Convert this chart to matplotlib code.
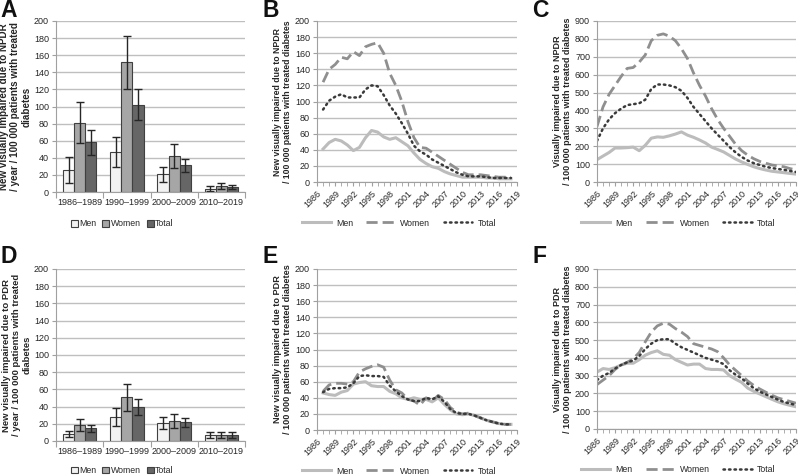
import matplotlib
matplotlib.use("Agg")
import matplotlib.pyplot as plt
import numpy as np

plt.rcParams['font.family'] = ['Liberation Sans', 'DejaVu Sans']

# ---------------- data ----------------
periods = ["1986\u20131989", "1990\u20131999", "2000\u20132009", "2010\u20132019"]
groups = ["Men", "Women", "Total"]

# Panel A (NPDR incidence by period)
a_men = [26, 47, 21, 4]
a_men_lo = [11, 29, 12, 1]
a_men_hi = [41, 64, 29, 7]
a_women = [81, 152, 42, 7]
a_women_lo = [57, 121, 28, 3]
a_women_hi = [105, 183, 56, 11]
a_total = [58, 102, 31, 6]
a_total_lo = [43, 84, 23, 3]
a_total_hi = [73, 120, 39, 8]

# Panel D (PDR incidence by period)
d_men = [8, 28, 21, 7]
d_men_lo = [5, 18, 14, 4]
d_men_hi = [12, 38, 28, 10]
d_women = [19, 51, 23, 7]
d_women_lo = [12, 35, 15, 3]
d_women_hi = [26, 66, 31, 11]
d_total = [15, 40, 22, 7]
d_total_lo = [11, 30, 16, 4]
d_total_hi = [19, 49, 27, 10]

# Panels B and E: moving-average incidence, 1987-2018
years_inc = list(range(1987, 2019))
b_men = [41, 49, 53, 51, 46, 39, 43, 55, 64, 62, 56, 53, 55, 50, 45, 36,
         28, 23, 19, 17, 13, 10, 8, 6, 6, 6, 6, 5, 5, 4, 4, 4]
b_women = [124, 140, 146, 155, 153, 162, 157, 168, 171, 173, 160, 135, 120, 100, 75, 55,
           43, 42, 37, 32, 27, 22, 17, 12, 9, 9, 9, 8, 7, 6, 6, 6]
b_total = [90, 101, 106, 109, 105, 105, 105, 115, 120, 119, 108, 95, 85, 73, 60, 45,
           38, 34, 28, 24, 20, 16, 12, 9, 7, 7, 7, 6, 5, 5, 5, 5]

e_men = [46, 44, 43, 47, 49, 57, 59, 60, 55, 54, 54, 48, 45, 40, 38, 40,
         38, 38, 35, 40, 32, 25, 20, 19, 20, 18, 15, 12, 10, 8, 7, 7]
e_women = [48, 56, 58, 58, 57, 60, 72, 76, 79, 81, 78, 62, 50, 46, 38, 36,
           31, 40, 36, 43, 38, 28, 22, 20, 21, 18, 15, 12, 10, 8, 7, 7]
e_total = [47, 51, 52, 52, 53, 58, 67, 68, 67, 67, 66, 55, 48, 42, 38, 36,
           36, 40, 38, 42, 35, 26, 21, 20, 20, 18, 15, 12, 10, 8, 7, 7]

# Panels C and F: prevalence, 1986-2019
years_prev = list(range(1986, 2020))
c_men = [125, 145, 165, 190, 190, 192, 195, 175, 205, 245, 252, 250, 258, 268, 280, 262, 250,
         235, 218, 195, 182, 168, 148, 128, 112, 98, 85, 75, 67, 60, 56, 52, 48, 44]
c_women = [310, 420, 490, 540, 590, 635, 640, 670, 710, 790, 820, 828, 815, 790, 745, 690, 610,
           540, 480, 410, 350, 300, 255, 210, 175, 150, 130, 115, 105, 95, 90, 85, 75, 68]
c_total = [230, 300, 350, 385, 410, 430, 435, 440, 460, 520, 545, 545, 540, 530, 510, 470, 420,
           380, 340, 300, 265, 230, 195, 165, 140, 120, 105, 95, 85, 78, 73, 68, 62, 56]

f_men = [320, 340, 335, 345, 360, 370, 370, 390, 415, 430, 440, 420, 415, 390, 375, 360, 365,
         365, 340, 335, 335, 332, 300, 280, 262, 230, 212, 197, 182, 167, 153, 142, 133, 125]
f_women = [250, 275, 300, 335, 360, 375, 395, 430, 490, 545, 580, 595, 590, 565, 545, 520, 480,
           470, 460, 450, 435, 400, 360, 330, 300, 270, 245, 225, 207, 190, 175, 165, 155, 145]
f_total = [275, 300, 315, 340, 360, 375, 385, 410, 450, 480, 500, 505, 505, 480, 460, 445, 430,
           415, 400, 390, 380, 365, 330, 305, 285, 255, 230, 210, 195, 180, 165, 152, 143, 135]

ylab_A = "New visually impaired due to NPDR\n/ year / 100 000 patients with treated\ndiabetes"
ylab_B = "New visually impaired due to NPDR\n/ 100 000 patients with treated diabetes"
ylab_C = "Visually impaired due to NPDR\n/ 100 000 patients with treated diabetes"
ylab_D = "New visually impaired due to PDR\n/ year / 100 000 patients with treated\ndiabetes"
ylab_E = "New visually impaired due to PDR\n/ 100 000 patients with treated diabetes"
ylab_F = "Visually impaired due to PDR\n/ 100 000 patients with treated diabetes"

# ---------------- style ----------------
W, H = 798, 475
fig = plt.figure(figsize=(W / 100, H / 100), dpi=100)

GRID = "#bfbfbf"
TXT = "#262626"
TICKFS = 6.5
LEGFS = 6.3
bar_colors = ["#f2f2f2", "#a6a6a6", "#666666"]
line_styles = [
    dict(color="#bcbcbc", lw=2.2, ls="-"),
    dict(color="#8f8f8f", lw=2.0, ls=(0, (4, 1.8))),
    dict(color="#3a3a3a", lw=1.8, ls=(0, (0.6, 1.6)), dash_capstyle="round"),
]


def ax_px(l, t, r, b):
    return fig.add_axes([l / W, 1 - b / H, (r - l) / W, (b - t) / H])


def style_axes(ax, ymax, ystep):
    ax.set_ylim(0, ymax)
    ax.set_yticks(np.arange(0, ymax + 1, ystep))
    ax.yaxis.grid(True, color=GRID, lw=1.0)
    ax.set_axisbelow(True)
    for s in ["top", "right"]:
        ax.spines[s].set_visible(False)
    ax.spines["left"].set_color("#a0a0a0")
    ax.spines["bottom"].set_color("#a0a0a0")
    ax.tick_params(axis="y", labelsize=TICKFS, colors="#a0a0a0", labelcolor=TXT, length=3,
                   width=0.8, pad=2)
    ax.tick_params(axis="x", labelsize=TICKFS, colors="#a0a0a0", labelcolor=TXT, width=0.8)


def bar_panel(ax, vals, los, his, ylab, ylfs, legy):
    x = np.arange(len(periods)) + 0.5
    bw = 0.235
    for i, (v, lo, hi) in enumerate(zip(vals, los, his)):
        xs = x + (i - 1) * bw
        v = np.array(v)
        err = [v - np.array(lo), np.array(hi) - v]
        ax.bar(xs, v, bw, color=bar_colors[i], edgecolor="#404040", lw=0.8, label=groups[i],
               yerr=err, error_kw=dict(ecolor="#262626", elinewidth=1.0, capsize=3, capthick=1.0))
    ax.set_xlim(0, 4)
    style_axes(ax, 200, 20)
    ax.set_xticks([0, 1, 2, 3, 4])
    ax.set_xticklabels([])
    ax.set_xticks(x, minor=True)
    ax.set_xticklabels(periods, minor=True)
    ax.tick_params(axis="x", which="major", length=4, direction="out")
    ax.tick_params(axis="x", which="minor", length=0, pad=4, labelsize=TICKFS, labelcolor=TXT)
    ax.set_ylabel(ylab, fontsize=ylfs, fontweight="bold", color=TXT, labelpad=2, linespacing=1.15)
    leg = ax.legend(loc="upper center", bbox_to_anchor=(0.35, legy), ncol=3, frameon=False,
                    fontsize=LEGFS, handlelength=0.8, handleheight=0.8, handletextpad=0.15,
                    columnspacing=0.7, borderaxespad=0)
    for t in leg.get_texts():
        t.set_color(TXT)


def line_panel(ax, years, series, ylab, ymax, ystep, ylfs):
    for s, name, st in zip(series, groups, line_styles):
        ax.plot(years, s, label=name, **st)
    ax.set_xlim(1986, 2019)
    style_axes(ax, ymax, ystep)
    ax.set_xticks(range(1986, 2020, 3))
    ax.set_xticks(range(1986, 2020), minor=True)
    ax.set_xticklabels([str(y) for y in range(1986, 2020, 3)], rotation=45, ha="right",
                       rotation_mode="anchor")
    ax.tick_params(axis="x", which="both", length=3, direction="out", pad=2)
    ax.tick_params(axis="x", which="minor", colors="#a0a0a0")
    ax.set_ylabel(ylab, fontsize=ylfs, fontweight="bold", color=TXT, labelpad=2, linespacing=1.15)
    leg = ax.legend(loc="upper center", bbox_to_anchor=(0.41, -0.205), ncol=3, frameon=False,
                    fontsize=LEGFS, handlelength=3.3, handletextpad=0.6, columnspacing=1.5,
                    borderaxespad=0)
    for t in leg.get_texts():
        t.set_color(TXT)


axA = ax_px(56, 21, 245, 192)
bar_panel(axA, [a_men, a_women, a_total], [a_men_lo, a_women_lo, a_total_lo],
          [a_men_hi, a_women_hi, a_total_hi], ylab_A, 7.1, -0.14)
axD = ax_px(56, 269, 245, 441)
bar_panel(axD, [d_men, d_women, d_total], [d_men_lo, d_women_lo, d_total_lo],
          [d_men_hi, d_women_hi, d_total_hi], ylab_D, 6.8, -0.125)

axB = ax_px(317, 21, 517, 182)
line_panel(axB, years_inc, [b_men, b_women, b_total], ylab_B, 200, 20, 6.3)
axE = ax_px(317, 269, 517, 430)
line_panel(axE, years_inc, [e_men, e_women, e_total], ylab_E, 200, 20, 6.6)

axC = ax_px(597, 21, 796, 182)
line_panel(axC, years_prev, [c_men, c_women, c_total], ylab_C, 900, 100, 6.5)
axF = ax_px(597, 269, 796, 429)
line_panel(axF, years_prev, [f_men, f_women, f_total], ylab_F, 900, 100, 6.5)

for letter, (px, py) in zip("ABCDEF", [(0, -1), (262, -1), (532, -1), (0, 245), (262, 245), (532, 245)]):
    fig.text(px / W, 1 - py / H, letter, fontsize=16.5, fontweight="bold", color="#111111",
             ha="left", va="top")

fig.savefig("out.png", dpi=100)
